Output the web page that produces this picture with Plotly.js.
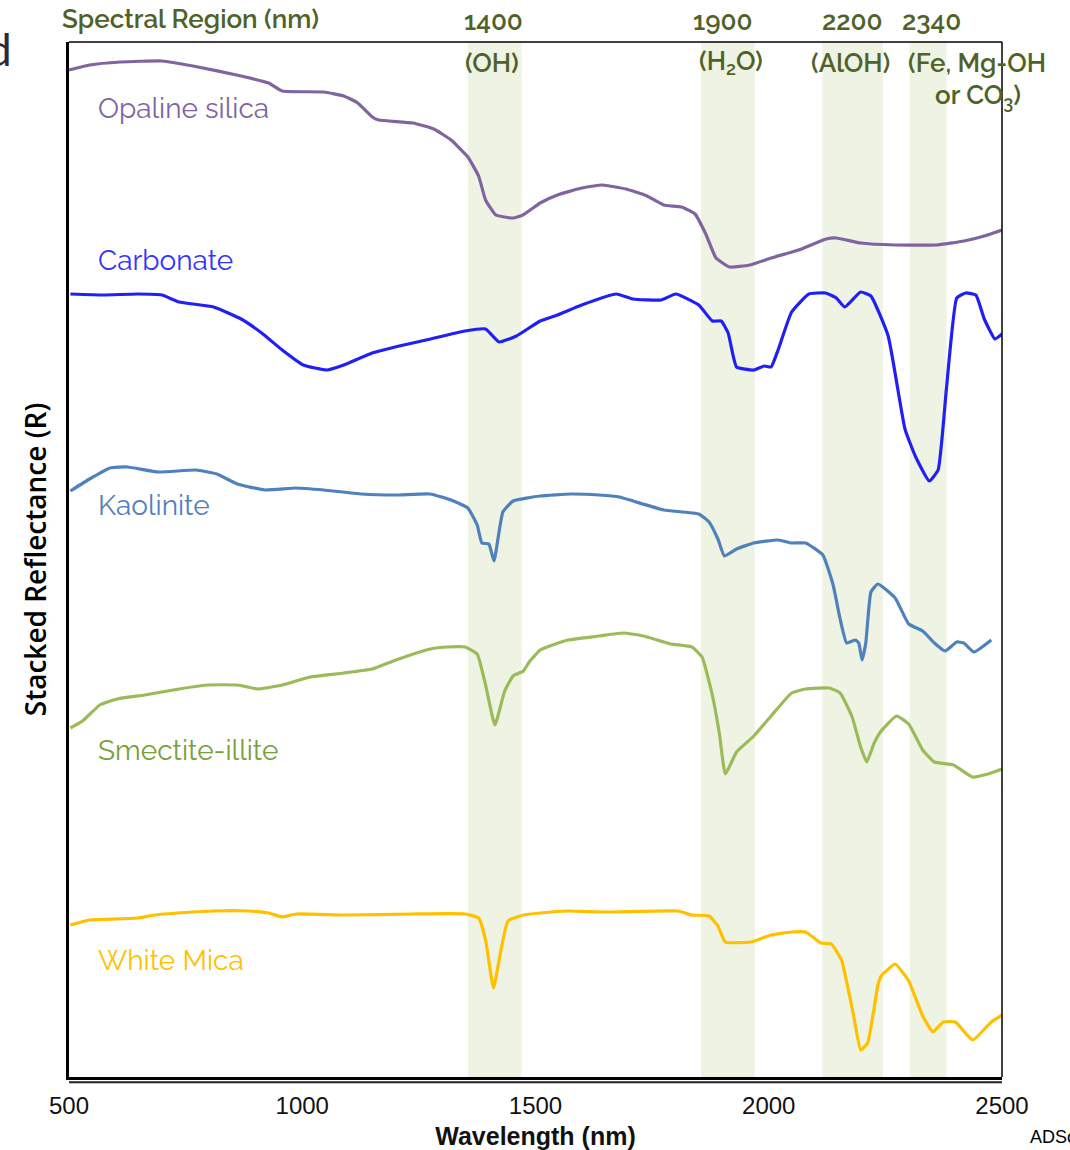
<!DOCTYPE html>
<html>
<head>
<meta charset="utf-8">
<script src="https://cdn.plot.ly/plotly-3.0.1.min.js"></script>
<style>html,body{margin:0;padding:0;background:#fff;}#chart{width:1070px;height:1150px;}</style>
</head>
<body>
<div id="chart"></div>
<script>
// ---------- DATA (wavelength in nm, stacked reflectance in arbitrary offset units) ----------
const opalWl = [500,544,610,699,766,869,928,957,1046,1089,1119,1150,1164,1237,1282,1319,1355,1378,1393,1415,1452,1473,1510,1547,1599,1643,1694,1739,1775,1813,1842,1865,1887,1916,1960,2005,2064,2123,2145,2197,2271,2359,2419,2462,2500];
const opalR  = [1002,1007,1010,1011,1006,996,989,981,980,976,969,955,952,949,943,932,915,896,872,857,854,857,869,877,884,887,883,876,867,865,858,838,814,805,807,814,822,833,834,829,827,827,831,836,842];

const carbWl = [503,573,647,699,736,810,869,913,957,1002,1053,1089,1150,1208,1275,1349,1393,1422,1459,1510,1547,1599,1673,1709,1769,1801,1850,1879,1898,1913,1931,1968,1990,2005,2020,2049,2086,2122,2145,2163,2197,2219,2256,2292,2315,2344,2363,2381,2403,2422,2444,2462,2485,2500];
const carbR  = [778,777,778,777,770,765,753,739,722,707,702,707,719,726,733,741,743,730,736,751,757,767,778,773,772,778,767,751,751,739,705,702,706,705,722,760,778,779,774,765,780,776,736,643,615,591,602,684,774,779,777,753,733,738];

const kaolWl = [503,544,588,625,692,772,817,861,920,987,1046,1127,1201,1274,1319,1355,1375,1385,1400,1411,1430,1452,1510,1576,1636,1680,1709,1775,1850,1872,1891,1905,1931,1968,2020,2049,2079,2116,2138,2153,2167,2186,2193,2200,2208,2219,2234,2271,2300,2330,2355,2378,2403,2418,2440,2477];
const kaolR  = [581,593,604,605,600,602,598,588,582,584,582,578,577,578,572,564,547,529,528,511,560,571,576,578,577,575,571,562,558,550,533,516,523,529,532,529,529,517,487,453,429,432,429,412,429,480,488,474,448,441,429,421,430,429,420,432];

const smecWl = [503,529,566,603,662,736,795,861,906,957,1017,1089,1150,1201,1275,1312,1349,1375,1393,1413,1434,1452,1474,1488,1510,1525,1570,1636,1688,1732,1790,1835,1857,1879,1894,1907,1931,1968,2005,2049,2079,2130,2153,2178,2197,2210,2226,2241,2274,2300,2330,2355,2396,2437,2470,2500];
const smecR  = [344,351,367,373,377,383,387,387,383,387,395,399,403,412,423,425,425,418,387,347,381,396,401,411,422,425,432,436,439,436,428,425,415,377,339,298,320,336,356,379,383,384,379,356,325,310,329,341,356,348,322,310,307,295,298,303];

const micaWl = [503,544,647,684,765,810,884,928,957,987,1089,1237,1349,1378,1393,1410,1426,1441,1474,1510,1570,1651,1806,1835,1872,1891,1907,1961,2005,2049,2079,2112,2134,2156,2182,2197,2212,2234,2241,2271,2300,2330,2352,2374,2400,2437,2477,2500];
const micaR  = [147,152,154,157,160,161,161,159,155,158,157,158,158,154,132,84,122,151,157,159,161,160,161,157,156,146,130,130,137,140,140,129,128,112,56,22,29,87,96,108,91,56,40,50,50,32,50,57];

const mineralNames = ["Opaline silica","Carbonate","Kaolinite","Smectite-illite","White Mica"];

// absorption regions
const regionCentre = ["1400","1900","2200","2340"];
const regionFeature = ["(OH)","(H<sub>2</sub>O)","(AlOH)","(Fe, Mg-OH"];
const regionStart = [1355,1855,2115,2302];
const regionEnd   = [1470,1970,2245,2381];

const xTicks = [500,1000,1500,2000,2500];

// ---------- STYLE ----------
const lineColors  = ["#8064a2","#2020f5","#4f81bd","#9bbb59","#ffc000"];
const labelColors = ["#8064a2","#3333ff","#4f81bd","#77a03a","#ffc000"];
const olive = "#4f6228";
const labelFont = "Raleway, Lato, 'Open Sans', sans-serif";

// pixel helpers for text placement (plot area: x 69..1002, y 42..1077)
const px2paperX = px => (px-69)/933;
const px2paperY = py => (1077-py)/1035;

const series = [[opalWl,opalR],[carbWl,carbR],[kaolWl,kaolR],[smecWl,smecR],[micaWl,micaR]];
const traces = series.map((s,i)=>({
  x:s[0], y:s[1], type:'scatter', mode:'lines', name:mineralNames[i],
  line:{color:lineColors[i], width:3.2, shape:'spline', smoothing:0.4},
  hoverinfo:'skip', showlegend:false
}));

const shapes = regionStart.map((s,i)=>({
  type:'rect', xref:'x', yref:'paper', x0:s, x1:regionEnd[i], y0:0, y1:1,
  fillcolor:'#eef3e3', line:{width:0}, layer:'below'
}));
// frame lines
shapes.push({type:'line', xref:'paper', yref:'paper', x0:0, x1:1, y0:1, y1:1, line:{color:'#000', width:1.5}});
shapes.push({type:'line', xref:'paper', yref:'paper', x0:1, x1:1, y0:0, y1:1, line:{color:'#000', width:1.5}});
shapes.push({type:'line', xref:'paper', yref:'paper', x0:0, x1:1, y0:-0.005, y1:-0.005, line:{color:'#222', width:2}});

// mineral label positions
const labelPy = [108,260,505,750,960];
const annotations = mineralNames.map((n,i)=>({
  text:n, x:px2paperX(96), y:px2paperY(labelPy[i]), xref:'paper', yref:'paper', xanchor:'left', yanchor:'middle',
  showarrow:false, font:{family:labelFont, size:28, color:labelColors[i]}
}));

const topFont = {family:labelFont, size:26, color:olive, weight:600};
annotations.push({text:"Spectral Region (nm)", x:px2paperX(60), y:px2paperY(19), xref:'paper', yref:'paper', xanchor:'left', yanchor:'middle', showarrow:false, font:topFont});
const centrePx = [493,723,852,931];
const featurePx = [492,731,850,977];
regionCentre.forEach((t,i)=>{
  annotations.push({text:t, x:px2paperX(centrePx[i]), y:px2paperY(21), xref:'paper', yref:'paper', xanchor:'center', yanchor:'middle', showarrow:false, font:topFont});
  annotations.push({text:regionFeature[i], x:px2paperX(featurePx[i]), y:px2paperY(63), xref:'paper', yref:'paper', xanchor:'center', yanchor:'middle', showarrow:false, font:topFont});
});
annotations.push({text:"or CO<sub>3</sub>)", x:px2paperX(978), y:px2paperY(96), xref:'paper', yref:'paper', xanchor:'center', yanchor:'middle', showarrow:false, font:topFont});
annotations.push({text:"d", x:px2paperX(14), y:px2paperY(49), xref:'paper', yref:'paper', xanchor:'right', yanchor:'middle', showarrow:false, font:{family:"Lato, sans-serif", size:44, color:'#2a2a3a'}});
annotations.push({text:"ADSc", x:px2paperX(1028), y:px2paperY(1137), xref:'paper', yref:'paper', xanchor:'left', yanchor:'middle', showarrow:false, font:{family:"Liberation Sans, Arial, sans-serif", size:18, color:'#000'}});

const layout = {
  width:1070, height:1150,
  margin:{l:69, r:68, t:42, b:73, pad:0},
  paper_bgcolor:'#fff', plot_bgcolor:'#fff',
  xaxis:{
    range:[500,2500], tickvals:xTicks, ticktext:xTicks.map(String), ticks:'', showgrid:false, zeroline:false,
    showline:true, linecolor:'#000', linewidth:2.5,
    tickfont:{family:"Liberation Sans, Arial, sans-serif", size:24, color:'#111'},
    ticklabelstandoff:6,
    title:{text:"Wavelength (nm)", font:{family:"Liberation Sans, Arial, sans-serif", size:25, color:'#111', weight:'bold'}, standoff:12}
  },
  yaxis:{
    range:[-5,1030], showticklabels:false, ticks:'', showgrid:false, zeroline:false,
    showline:true, linecolor:'#000', linewidth:3,
    title:{text:"Stacked Reflectance (R)", font:{family:"'Open Sans', sans-serif", size:28, color:'#000', weight:600}, standoff:12}
  },
  shapes:shapes, annotations:annotations,
  showlegend:false
};

Plotly.newPlot('chart', traces, layout, {displayModeBar:false, staticPlot:true});
</script>
</body>
</html>
